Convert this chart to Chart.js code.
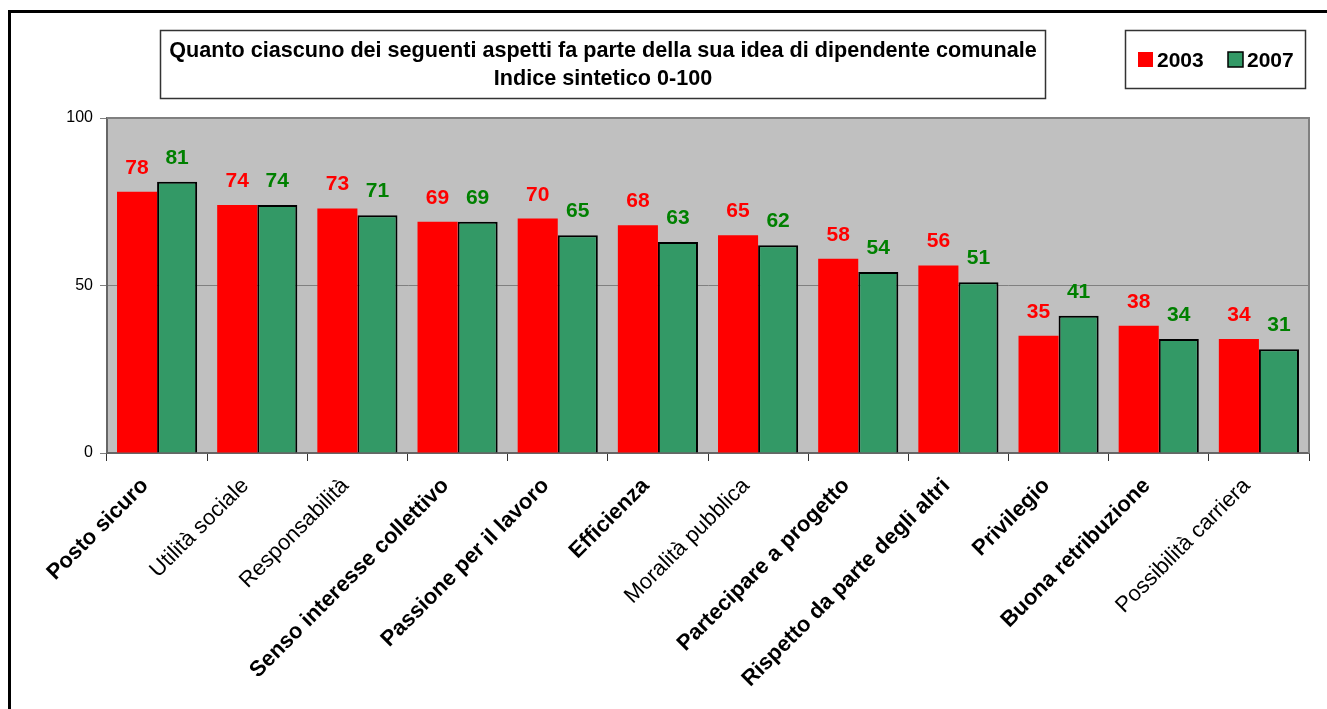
<!DOCTYPE html>
<html>
<head>
<meta charset="utf-8">
<script src="https://cdn.jsdelivr.net/npm/chart.js@4.4.0/dist/chart.umd.min.js"></script>
<style>
  html, body { margin: 0; padding: 0; background: #fff; }
  #wrap { width: 1327px; height: 709px; position: relative; }
</style>
</head>
<body>
<div id="wrap"><canvas id="aspettiChart" width="1327" height="709"></canvas></div>
<script>
// Categorie (asse x) e valori dell'indice 0-100
const categorie = [
  "Posto sicuro", "Utilità sociale", "Responsabilità", "Senso interesse collettivo",
  "Passione per il lavoro", "Efficienza", "Moralità pubblica", "Partecipare a progetto",
  "Rispetto da parte degli altri", "Privilegio", "Buona retribuzione", "Possibilità carriera"
];
// etichette scritte in grassetto
const grassetto = [true, false, false, true, true, true, false, true, true, true, true, false];
const valori2003 = [78, 74, 73, 69, 70, 68, 65, 58, 56, 35, 38, 34];
const valori2007 = [81, 74, 71, 69, 65, 63, 62, 54, 51, 41, 34, 31];
const tickY = [0, 50, 100];

const titolo = [
  "Quanto ciascuno dei seguenti aspetti fa parte della sua idea di dipendente comunale",
  "Indice sintetico 0-100"
];
const anni = ["2003", "2007"];
const coloriBarre = ["#FF0000", "#339966"];
const coloriEtichette = ["#FF0000", "#008000"];

const FONT = "'Liberation Sans', Arial, sans-serif";

// cornice, sfondo grigio dell'area del grafico, titolo e legenda
const sfondo = {
  id: "sfondo",
  beforeDraw(chart) {
    const ctx = chart.ctx;
    const a = chart.chartArea;
    ctx.save();
    ctx.fillStyle = "#fff";
    ctx.fillRect(0, 0, chart.width, chart.height);
    ctx.fillStyle = "#C0C0C0";
    ctx.fillRect(a.left, a.top, a.right - a.left, a.bottom - a.top);

    // cornice esterna
    ctx.strokeStyle = "#000";
    ctx.lineWidth = 3;
    ctx.beginPath();
    ctx.moveTo(9.5, chart.height);
    ctx.lineTo(9.5, 11.5);
    ctx.lineTo(chart.width, 11.5);
    ctx.stroke();

    // riquadro del titolo
    ctx.lineWidth = 1.5;
    ctx.strokeStyle = "#333";
    ctx.strokeRect(160.5, 30.5, 885, 68);
    ctx.fillStyle = "#000";
    ctx.font = "bold 21.6px " + FONT;
    ctx.textAlign = "center";
    ctx.textBaseline = "alphabetic";
    ctx.fillText(titolo[0], 603, 57);
    ctx.fillText(titolo[1], 603, 85);

    // legenda
    ctx.strokeRect(1125.5, 30.5, 180, 58);
    ctx.font = "bold 21px " + FONT;
    ctx.textAlign = "left";
    const xs = [1138, 1228];
    anni.forEach((anno, i) => {
      ctx.fillStyle = coloriBarre[i];
      ctx.fillRect(xs[i], 52, 15, 15);
      if (i === 1) {
        ctx.lineWidth = 1.5;
        ctx.strokeStyle = "#000";
        ctx.strokeRect(xs[i], 52, 15, 15);
      }
      ctx.fillStyle = "#000";
      ctx.fillText(anno, xs[i] + 19, 67);
    });
    ctx.restore();
  },
  afterDraw(chart) {
    // bordo dell'area del grafico
    const ctx = chart.ctx;
    const a = chart.chartArea;
    ctx.save();
    ctx.strokeStyle = "#808080";
    ctx.lineWidth = 2;
    ctx.beginPath();
    ctx.moveTo(a.left, a.top);
    ctx.lineTo(a.right, a.top);
    ctx.lineTo(a.right, a.bottom);
    ctx.stroke();
    ctx.restore();
  }
};

// valori scritti sopra le barre
const etichetteValori = {
  id: "etichetteValori",
  afterDatasetsDraw(chart) {
    const ctx = chart.ctx;
    ctx.save();
    ctx.font = "bold 21px " + FONT;
    ctx.textAlign = "center";
    ctx.textBaseline = "alphabetic";
    chart.data.datasets.forEach((ds, di) => {
      const meta = chart.getDatasetMeta(di);
      ctx.fillStyle = coloriEtichette[di];
      meta.data.forEach((bar, i) => {
        ctx.fillText(String(ds.data[i]), bar.x, bar.y - 18);
      });
    });
    ctx.restore();
  }
};

new Chart(document.getElementById("aspettiChart"), {
  type: "bar",
  data: {
    labels: categorie,
    datasets: [
      {
        label: anni[0],
        data: valori2003,
        backgroundColor: coloriBarre[0],
        borderWidth: 0,
        barPercentage: 1,
        categoryPercentage: 0.8
      },
      {
        label: anni[1],
        data: valori2007,
        backgroundColor: coloriBarre[1],
        borderColor: "#000",
        borderWidth: 2,
        barPercentage: 1,
        categoryPercentage: 0.8
      }
    ]
  },
  options: {
    responsive: false,
    animation: false,
    layout: { padding: { top: 118, right: 18, left: 10, bottom: 0 } },
    plugins: {
      legend: { display: false },
      title: { display: false },
      tooltip: { enabled: false }
    },
    scales: {
      x: {
        afterFit(scale) { scale.height = 256; },
        grid: {
          offset: true,
          drawOnChartArea: false,
          drawTicks: true,
          tickLength: 8,
          color: "#333"
        },
        border: { display: true, color: "#666", width: 2 },
        ticks: {
          autoSkip: false,
          maxRotation: 45,
          minRotation: 45,
          color: "#000",
          padding: 12,
          labelOffset: -12,
          font: ctx => ({
            family: FONT,
            size: 22,
            weight: grassetto[ctx.index] ? "bold" : "normal"
          })
        }
      },
      y: {
        min: 0,
        max: 100,
        afterFit(scale) { scale.width = 97; },
        afterBuildTicks(scale) { scale.ticks = tickY.map(v => ({ value: v })); },
        grid: {
          color: "#808080",
          lineWidth: 1,
          drawTicks: true,
          tickLength: 7
        },
        border: { display: true, color: "#666", width: 2 },
        ticks: {
          color: "#000",
          padding: 7,
          font: { family: FONT, size: 16 }
        }
      }
    }
  },
  plugins: [sfondo, etichetteValori]
});
</script>
</body>
</html>
